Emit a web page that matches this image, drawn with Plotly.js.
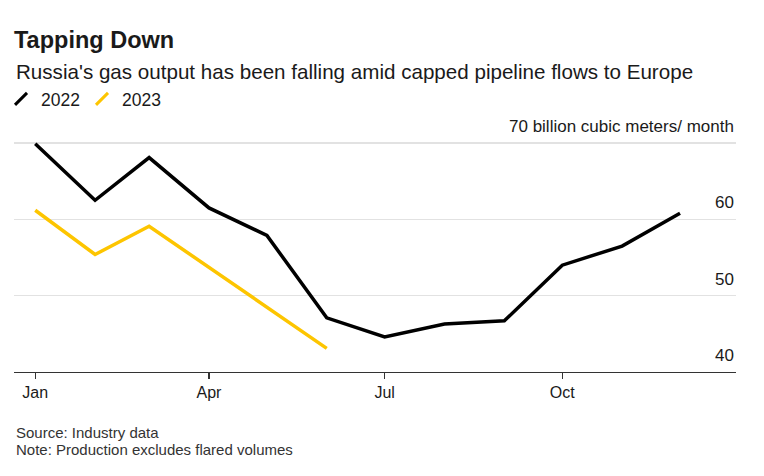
<!DOCTYPE html>
<html>
<head>
<meta charset="utf-8">
<script src="https://cdn.plot.ly/plotly-3.0.1.min.js"></script>
<style>html,body{margin:0;padding:0;background:#fff;}#chart{width:764px;height:476px;}</style>
</head>
<body>
<div id="chart"></div>
<script>
// Data (billion cubic meters per month), plotted on a shared Jan-Dec month axis
const months = ['2022-01-01','2022-02-01','2022-03-01','2022-04-01','2022-05-01','2022-06-01',
                '2022-07-01','2022-08-01','2022-09-01','2022-10-01','2022-11-01','2022-12-01'];
const values2022 = [69.9, 62.5, 68.1, 61.5, 57.9, 47.1, 44.6, 46.3, 46.7, 54.0, 56.5, 60.8];
const months2023 = ['2022-01-01','2022-02-01','2022-03-01','2022-04-01','2022-05-01','2022-06-01'];
const values2023 = [61.2, 55.4, 59.1, 53.7, 48.5, 43.1];
const xTickVals = ['2022-01-01','2022-04-01','2022-07-01','2022-10-01'];
const xTickText = ['Jan','Apr','Jul','Oct'];
const yTickVals = [40, 50, 60, 70];
const yTickText = ['40', '50', '60', '70 billion cubic meters/ month'];

const FONT = 'Liberation Sans, Arial, Helvetica, sans-serif';
const TXT = '#1a1a1a';
const C2022 = '#000000';
const C2023 = '#fdc500';

const traces = [
  {x: months, y: values2022, mode: 'lines', name: '2022', showlegend: false,
   line: {color: C2022, width: 3.5}, hoverinfo: 'skip'},
  {x: months2023, y: values2023, mode: 'lines', name: '2023', showlegend: false,
   line: {color: C2023, width: 3.5}, hoverinfo: 'skip'},
  {x: [null], y: [null], mode: 'markers', name: '2022', showlegend: true,
   marker: {symbol: 'line-ne', size: 12, color: C2022, line: {color: C2022, width: 3}}},
  {x: [null], y: [null], mode: 'markers', name: '2023', showlegend: true,
   marker: {symbol: 'line-ne', size: 12, color: C2023, line: {color: C2023, width: 3}}}
];

// y tick labels drawn right-aligned above their gridlines
const yLabelAnnotations = yTickVals.map((v, i) => ({
  text: yTickText[i], xref: 'paper', yref: 'y', x: 1, xanchor: 'right',
  y: v, yanchor: 'middle', yshift: 16.5, showarrow: false,
  font: {family: FONT, size: 17, color: TXT}
}));

const layout = {
  width: 764, height: 476,
  margin: {l: 14, r: 28, t: 124, b: 104},
  paper_bgcolor: '#fff', plot_bgcolor: '#fff',
  font: {family: FONT, color: TXT, size: 16},
  title: {text: '<b>Tapping Down</b>', font: {family: FONT, size: 23.5, color: TXT},
          xref: 'container', yref: 'container', x: 14/764, xanchor: 'left',
          y: 1 - 40/476, yanchor: 'middle', pad: {l: 0, t: 0}},
  showlegend: true,
  legend: {orientation: 'h', xref: 'container', yref: 'container',
           x: 1/764, xanchor: 'left', y: 1 - 99/476, yanchor: 'middle',
           font: {family: FONT, size: 17.5, color: TXT}, entrywidth: 36, entrywidthmode: 'pixels',
           tracegroupgap: 0, bgcolor: 'rgba(0,0,0,0)'},
  xaxis: {type: 'date', range: ['2021-12-21', '2022-12-30'],
          tickvals: xTickVals, ticktext: xTickText, automargin: false,
          showgrid: false, zeroline: false,
          showline: true, linecolor: '#333', linewidth: 1.2,
          ticks: 'outside', ticklen: 6, tickwidth: 1.2, tickcolor: '#333',
          tickfont: {family: FONT, size: 16, color: TXT}, fixedrange: true},
  yaxis: {range: [40, 72.5], side: 'right', automargin: false,
          tickvals: yTickVals, showticklabels: false,
          showgrid: true, gridcolor: '#e2e2e2', gridwidth: 1.5,
          zeroline: false, showline: false, ticks: '', fixedrange: true},
  annotations: [
    {text: "Russia's gas output has been falling amid capped pipeline flows to Europe",
     xref: 'paper', yref: 'paper', x: 0, xanchor: 'left',
     y: 1 + 53/248, yanchor: 'middle', showarrow: false,
     font: {family: FONT, size: 20.6, color: TXT}},
    {text: 'Source: Industry data', xref: 'paper', yref: 'paper',
     x: 0, xanchor: 'left', y: -(432.5 - 372) / 248, yanchor: 'middle', showarrow: false,
     font: {family: FONT, size: 15, color: '#333'}},
    {text: 'Note: Production excludes flared volumes', xref: 'paper', yref: 'paper',
     x: 0, xanchor: 'left', y: -(449 - 372) / 248, yanchor: 'middle', showarrow: false,
     font: {family: FONT, size: 15, color: '#333'}}
  ].concat(yLabelAnnotations)
};

Plotly.newPlot('chart', traces, layout, {displayModeBar: false, staticPlot: true});
</script>
</body>
</html>
